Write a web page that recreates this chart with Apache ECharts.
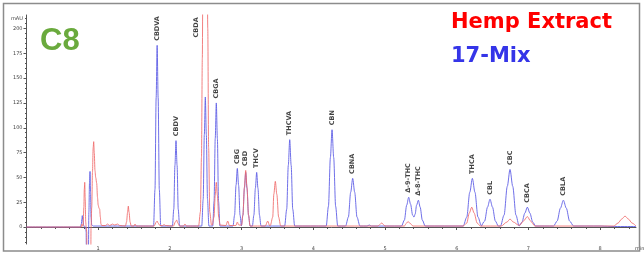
<!DOCTYPE html>
<html><head><meta charset="utf-8">
<script src="https://cdn.jsdelivr.net/npm/echarts@6/dist/echarts.min.js"></script>
<style>html,body{margin:0;padding:0;background:#fff}#c{width:644px;height:255px}</style>
</head><body><div id="c"></div><script>
// ---- data ----
const xMajorTicks = [1, 2, 3, 4, 5, 6, 7, 8];
const yMajorTicks = [0, 25, 50, 75, 100, 125, 150, 175, 200];
const peakNames   = ['CBDVA','CBDV','CBDA','CBGA','CBG','CBD','THCV','THCVA','CBN','CBNA','Δ-9-THC','Δ-8-THC','THCA','CBL','CBC','CBCA','CBLA'];
const peakTimes   = [1.822, 2.085, 2.494, 2.647, 2.94, 3.057, 3.21, 3.671, 4.261, 4.549, 5.33, 5.465, 6.218, 6.464, 6.743, 6.985, 7.487];
const peakHeights = [183, 87, 131, 125, 59, 57, 55, 88, 98, 49, 30, 27, 49, 28, 58, 20, 27];

// 17-Mix (blue) trace: [minutes, mAU]
const blue17Mix = [
  [0,0],[0.72,0],
  [0.75,0],[0.765,3],[0.772,8],[0.778,11.5],[0.785,7],[0.795,2],[0.81,0],
  [0.826,0],[0.832,-5],[0.836,-40],[0.862,-40],[0.87,15],[0.879,45],[0.886,56],[0.893,35],[0.9,10],[0.91,2],[0.93,1],
  [1.2,1],[1.5,1],
  [1.772,1],[1.792,38],[1.808,130],[1.822,183],[1.836,130],[1.852,38],[1.872,1],
  [2.035,1],[2.054,18],[2.07,62],[2.085,87],[2.1,62],[2.116,18],[2.135,1],
  [2.444,1],[2.464,28],[2.48,93],[2.494,131],[2.508,93],[2.524,28],[2.544,1],
  [2.597,1],[2.616,26],[2.632,89],[2.647,125],[2.662,89],[2.678,26],[2.697,1],
  [2.88,1],[2.902,12],[2.922,42],[2.94,59],[2.958,42],[2.978,12],[2.998,1],
  [3.0,1],[3.018,12],[3.039,39],[3.057,55],[3.075,39],[3.096,12],[3.118,1],
  [3.15,1],[3.171,12],[3.192,39],[3.21,55],[3.228,39],[3.249,12],[3.27,1],
  [3.6,1],[3.629,18],[3.651,62],[3.671,88],[3.691,62],[3.713,18],[3.74,1],
  [4.18,1],[4.211,21],[4.238,70],[4.261,98],[4.284,70],[4.311,21],[4.34,1],
  [4.45,1],[4.489,10],[4.521,35],[4.549,49],[4.577,35],[4.609,10],[4.65,1],
  [4.75,1],[4.78,2],[4.81,1],
  [5.23,1],[5.27,7],[5.302,22],[5.33,30],[5.356,23],[5.385,12],[5.404,10],[5.42,13],[5.44,22],[5.465,27],[5.49,20],[5.52,7],[5.56,1],
  [6.09,1],[6.14,10],[6.182,35],[6.218,49],[6.254,35],[6.296,10],[6.345,1],
  [6.35,1],[6.389,6],[6.429,20],[6.464,28],[6.499,20],[6.539,6],[6.58,1],
  [6.61,1],[6.66,12],[6.705,41],[6.743,58],[6.781,41],[6.826,12],[6.87,1],
  [6.91,5],[6.95,14],[6.985,20],[7.02,14],[7.06,5],[7.1,1],
  [7.35,1],[7.4,6],[7.446,19],[7.487,27],[7.528,19],[7.574,6],[7.63,1],
  [8.0,1],[8.2,0.5],[8.5,0.5]
];

// Hemp Extract (red) trace: [minutes, mAU]
const redHempExtract = [
  [0,0],[0.75,0],[0.765,0],[0.772,3],[0.778,1],
  [0.79,1],[0.8,20],[0.806,38],[0.812,45],[0.818,30],[0.826,5],[0.832,0],
  [0.84,-5],[0.845,-40],[0.896,-40],[0.9,0],[0.91,20],[0.92,55],[0.93,80],[0.937,86],[0.945,75],[0.955,57],[0.965,50],[0.979,44],[0.99,30],[1.0,22],[1.012,19],[1.02,18],[1.03,10],[1.038,3],[1.05,1.5],
  [1.1,1.5],[1.13,3],[1.16,1.5],[1.2,3],[1.23,2],[1.27,3],[1.3,1.5],
  [1.38,1],[1.395,5],[1.41,15],[1.42,21],[1.43,15],[1.445,5],[1.46,1],
  [1.5,1],[1.513,3],[1.53,1],
  [1.78,1],[1.81,5],[1.822,6],[1.835,4],[1.86,1.5],[1.9,1.5],[1.918,2.5],[1.94,1.5],
  [2.05,1],[2.075,5],[2.094,7],[2.11,4],[2.135,1],[2.19,1],[2.21,3],[2.23,1],
  [2.4,1],[2.425,15],[2.44,70],[2.452,170],[2.46,260],[2.475,380],[2.492,420],[2.51,380],[2.52,260],[2.528,200],[2.54,80],[2.556,15],[2.58,2],
  [2.59,2],[2.615,10],[2.632,32],[2.647,45],[2.662,32],[2.68,10],[2.7,2],
  [2.78,1.5],[2.806,6],[2.83,1.5],[2.92,1.5],[2.94,5],[2.96,2],
  [3.0,2],[3.018,12],[3.039,40],[3.057,57],[3.075,40],[3.096,12],[3.118,1],
  [3.33,1],[3.364,6],[3.39,1.5],
  [3.4,1.5],[3.434,10],[3.449,33],[3.47,46],[3.491,33],[3.516,10],[3.545,1],
  [4.9,1],[4.954,4],[5.0,1],
  [5.27,1],[5.3,4],[5.321,5.5],[5.345,4],[5.39,1],
  [6.09,1],[6.14,4],[6.175,14],[6.209,20],[6.243,14],[6.285,4],[6.33,1],
  [6.62,1],[6.7,5],[6.743,8],[6.79,5],[6.86,2],
  [6.88,2],[6.93,6],[6.985,10.5],[7.03,6],[7.09,1],
  [8.19,1],[8.25,4],[8.3,8],[8.347,11],[8.394,8],[8.445,4],[8.5,1]
];

// ---- chart ----
const X_MIN = 0, X_MAX = 8.5, Y_MIN = -17.1, Y_MAX = 213.6;
const xMinor = []; for (let v = 0.2; v < X_MAX; v += 0.2) xMinor.push(+v.toFixed(1));
const yMinor = []; for (let v = -15; v <= 210; v += 5) yMinor.push(v);

const axisCol = '#555';
const chart = echarts.init(document.getElementById('c'), null, {renderer: 'canvas'});
const labelData = peakNames.map((n, i) => {
  const d = {name: n, value: [peakTimes[i], peakHeights[i]]};
  if (n === 'CBDA') d.label = {offset: [55, -9]};
  return d;
});

chart.setOption({
  animation: false,
  grid: {left: 26.5, right: 8, top: 15, bottom: 11},
  xAxis: [
    {type: 'value', min: X_MIN, max: X_MAX, splitLine: {show: false},
     axisLine: {lineStyle: {color: axisCol, width: 1}},
     axisTick: {customValues: xMajorTicks, length: 3, lineStyle: {color: axisCol}},
     axisLabel: {customValues: xMajorTicks, fontSize: 5, color: '#444', margin: 2, fontFamily: 'DejaVu Sans'}},
    {type: 'value', min: X_MIN, max: X_MAX, position: 'bottom', splitLine: {show: false},
     axisLine: {show: false},
     axisTick: {customValues: xMinor, length: 2, lineStyle: {color: axisCol}},
     axisLabel: {show: false}}
  ],
  yAxis: [
    {type: 'value', min: Y_MIN, max: Y_MAX, splitLine: {show: false},
     axisLine: {show: true, lineStyle: {color: axisCol, width: 1}},
     axisTick: {show: true, customValues: yMajorTicks, length: 3, lineStyle: {color: axisCol}},
     axisLabel: {customValues: yMajorTicks, fontSize: 5, color: '#444', margin: 4, fontFamily: 'DejaVu Sans'}},
    {type: 'value', min: Y_MIN, max: Y_MAX, position: 'left', splitLine: {show: false},
     axisLine: {show: false},
     axisTick: {show: true, customValues: yMinor, length: 1.5, lineStyle: {color: axisCol}},
     axisLabel: {show: false}}
  ],
  series: [
    {type: 'line', name: '17-Mix', data: blue17Mix, showSymbol: false, silent: true, smooth: 0.3, smoothMonotone: 'x',
     lineStyle: {color: '#5f5fe6', width: 1, opacity: 0.9}, z: 2},
    {type: 'line', name: 'Hemp Extract', data: redHempExtract, showSymbol: false, silent: true, smooth: 0.3, smoothMonotone: 'x',
     lineStyle: {color: '#f06a6a', width: 1, opacity: 0.85}, z: 3},
    {type: 'scatter', data: labelData, symbolSize: 1, itemStyle: {color: 'rgba(0,0,0,0)'}, silent: true, z: 5,
     label: {show: true, position: 'top', distance: 4, rotate: 90, align: 'left', verticalAlign: 'middle',
             formatter: p => p.name, fontSize: 6.5, fontWeight: 'bold', color: '#111', fontFamily: 'DejaVu Sans'}}
  ],
  graphic: [
    {type: 'rect', shape: {x: 3.5, y: 3.5, width: 636, height: 247.5}, style: {fill: 'none', stroke: '#8c8c8c', lineWidth: 1.5}, silent: true, z: 10},
    {type: 'text', left: 40, top: 26, style: {text: 'C8', font: 'bold 31px "Liberation Sans"', fill: '#6aaa3d'}},
    {type: 'text', left: 451, top: 12, style: {text: 'Hemp Extract', font: 'bold 21px "DejaVu Sans"', fill: '#ff0000'}},
    {type: 'text', left: 451, top: 46, style: {text: '17-Mix', font: 'bold 21px "DejaVu Sans"', fill: '#3535e8'}},
    {type: 'text', left: 11, top: 16, style: {text: 'mAU', font: '5px "DejaVu Sans"', fill: '#444'}},
    {type: 'text', left: 635, top: 246.5, style: {text: 'min', font: '5px "DejaVu Sans"', fill: '#444'}}
  ]
});
</script></body></html>
